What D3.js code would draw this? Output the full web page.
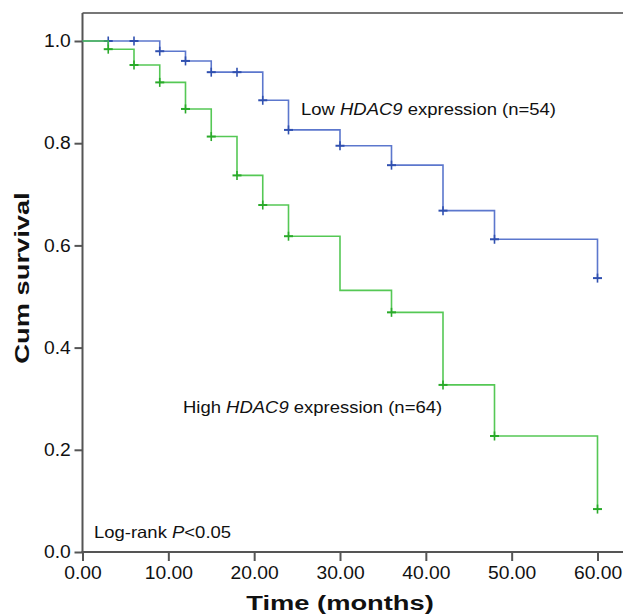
<!DOCTYPE html>
<html>
<head>
<meta charset="utf-8">
<script src="https://cdn.jsdelivr.net/npm/d3@7"></script>
<style>
  html, body { margin: 0; padding: 0; background: #fff; }
  svg { display: block; }
  text { font-family: "Liberation Sans", Arial, Helvetica, sans-serif; fill: #111; }
</style>
</head>
<body>
<svg id="chart" width="623" height="616"></svg>
<script>
// ---- Data ----
const lowTimes   = [0, 9, 12, 15, 21, 24, 30, 36, 42, 48, 60];
const lowSurv    = [1.0, 0.980, 0.961, 0.939, 0.884, 0.826, 0.795, 0.757, 0.668, 0.612, 0.536];
const lowCensor  = [3, 6, 9, 12, 15, 18, 21, 24, 30, 36, 42, 48, 60];

const highTimes  = [0, 3, 6, 9, 12, 15, 18, 21, 24, 30, 36, 42, 48, 60];
const highSurv   = [1.0, 0.984, 0.953, 0.919, 0.867, 0.813, 0.737, 0.679, 0.618, 0.512, 0.469, 0.327, 0.227, 0.084];
const highCensor = [3, 6, 9, 12, 15, 18, 21, 24, 36, 42, 48, 60];

const xTicks = [0, 10, 20, 30, 40, 50, 60];
const yTicks = [0, 0.2, 0.4, 0.6, 0.8, 1.0];

// ---- Layout ----
const svg = d3.select("#chart");
const W = 623, H = 616;
const mLeft = 82.5, mRight = 597.5, mTop = 41, mBottom = 552, frameTop = 13;

const x = d3.scaleLinear().domain([0, 60]).range([mLeft, mRight]);
const y = d3.scaleLinear().domain([0, 1]).range([mBottom, mTop]);

const axisColor = "#555";
const blue = "#4a68c8";
const blueDark = "#3050b0";
const green = "#42c242";
const greenDark = "#2aaa2a";

// frame lines
svg.append("line").attr("x1", mLeft).attr("x2", W).attr("y1", frameTop).attr("y2", frameTop)
  .attr("stroke", "#777").attr("stroke-width", 2);
svg.append("line").attr("x1", mLeft).attr("x2", mLeft).attr("y1", frameTop).attr("y2", mBottom)
  .attr("stroke", axisColor).attr("stroke-width", 2);
svg.append("line").attr("x1", mLeft - 1).attr("x2", W).attr("y1", mBottom).attr("y2", mBottom)
  .attr("stroke", axisColor).attr("stroke-width", 2);

// axes
const yAxis = d3.axisLeft(y).tickValues(yTicks).tickFormat(d3.format(".1f")).tickSize(8).tickPadding(3);
const gy = svg.append("g").attr("transform", `translate(${mLeft},0)`).call(yAxis);
gy.select(".domain").remove();
gy.selectAll(".tick line").attr("stroke", axisColor).attr("stroke-width", 2);
gy.selectAll(".tick text").attr("font-size", 18).attr("fill", "#111")
  .attr("transform", "scale(1.07,1)")
  .style("font-family", '"Liberation Sans", Arial, sans-serif');

const xAxis = d3.axisBottom(x).tickValues(xTicks).tickFormat(d3.format(".2f")).tickSize(9).tickPadding(5);
const gx = svg.append("g").attr("transform", `translate(0,${mBottom})`).call(xAxis);
gx.select(".domain").remove();
gx.selectAll(".tick line").attr("stroke", axisColor).attr("stroke-width", 2);
gx.selectAll(".tick text").attr("font-size", 18).attr("fill", "#111")
  .attr("transform", "scale(1.07,1)")
  .style("font-family", '"Liberation Sans", Arial, sans-serif');

// survival step curves
const line = d3.line().x(d => x(d[0])).y(d => y(d[1])).curve(d3.curveStepAfter);

function survAt(times, surv, t) {
  let v = surv[0];
  for (let i = 0; i < times.length; i++) if (times[i] <= t) v = surv[i];
  return v;
}

function drawCurve(times, surv, censor, color, dark) {
  svg.append("path").datum(times.map((t, i) => [t, surv[i]]))
    .attr("d", line).attr("fill", "none").attr("stroke", color)
    .attr("stroke-width", 1.6).attr("stroke-opacity", 0.9);
  const g = svg.append("g");
  censor.forEach(t => {
    const cx = x(t), cy = y(survAt(times, surv, t));
    g.append("line").attr("x1", cx - 4.5).attr("x2", cx + 4.5).attr("y1", cy).attr("y2", cy)
      .attr("stroke", dark).attr("stroke-width", 2);
    g.append("line").attr("x1", cx).attr("x2", cx).attr("y1", cy - 4.5).attr("y2", cy + 4.5)
      .attr("stroke", dark).attr("stroke-width", 1.6);
  });
}
drawCurve(lowTimes, lowSurv, lowCensor, blue, blueDark);
drawCurve(highTimes, highSurv, highCensor, green, greenDark);

// annotations
function label(xp, yp, parts, size) {
  const t = svg.append("text").attr("transform", `translate(${xp},${yp}) scale(1.12,1)`)
    .attr("font-size", size);
  parts.forEach(p => {
    t.append("tspan").text(p.t).attr("font-style", p.i ? "italic" : "normal");
  });
  return t;
}
label(301, 115, [{t: "Low "}, {t: "HDAC9", i: true}, {t: " expression (n=54)"}], 16.5);
label(183, 413, [{t: "High "}, {t: "HDAC9", i: true}, {t: " expression (n=64)"}], 16.5);
label(94, 537.5, [{t: "Log-rank "}, {t: "P", i: true}, {t: "<0.05"}], 16.5);

// axis titles
svg.append("text").attr("transform", "translate(340,610) scale(1.3,1)")
  .attr("text-anchor", "middle").attr("font-size", 21).attr("font-weight", "bold")
  .text("Time (months)");
svg.append("text").attr("transform", "translate(29,278) rotate(-90) scale(1.3,1)")
  .attr("text-anchor", "middle").attr("font-size", 21).attr("font-weight", "bold")
  .text("Cum survival");
</script>
</body>
</html>
